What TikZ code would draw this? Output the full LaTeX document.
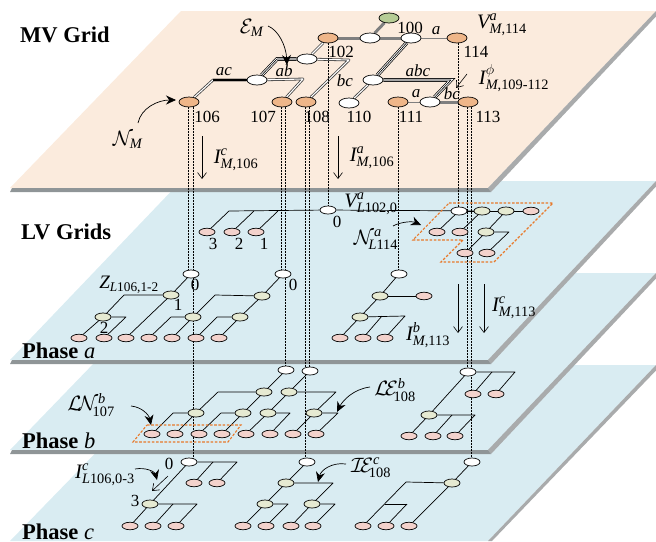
\documentclass[tikz,border=0pt]{standalone}
\usepackage{amsmath}
\usepackage{fontspec}
\setmainfont{Liberation Serif}
\usetikzlibrary{arrows.meta, shapes.geometric, calc}
\definecolor{grMV}{HTML}{FBEBDD}
\definecolor{grLV}{HTML}{D9ECF2}
\definecolor{grBand}{HTML}{8F9597}
\definecolor{grEdge}{HTML}{A9ABAC}
\definecolor{grLoad}{HTML}{F3D2CC}
\definecolor{grBus}{HTML}{E6EAD2}
\definecolor{grMVBus}{HTML}{EFB689}
\definecolor{grSub}{HTML}{B6CC95}
\definecolor{grDash}{HTML}{E8792B}
\definecolor{grFat}{HTML}{7F7F7F}
\pgfdeclarelayer{planes}
\pgfdeclarelayer{edges}
\pgfsetlayers{planes,edges,main}
\tikzset{
  gridnode/.style={ellipse, draw=black, line width=0.7pt, inner sep=0pt},
  mvbus/.style={gridnode, fill=grMVBus, minimum width=20pt, minimum height=10pt},
  mvwhite/.style={gridnode, fill=white, minimum width=20pt, minimum height=10pt},
  mvsub/.style={gridnode, fill=grSub, minimum width=20pt, minimum height=10pt},
  lvwhite/.style={gridnode, fill=white, minimum width=16pt, minimum height=8pt},
  lvbus/.style={gridnode, fill=grBus, minimum width=16pt, minimum height=8pt},
  lvload/.style={gridnode, fill=grLoad, minimum width=16pt, minimum height=7.5pt},
  wire/.style={draw=black, line width=0.7pt, line join=round},
  wirethin/.style={draw=grFat, line width=1pt},
  wirefat/.style={draw=grFat, line width=3pt},
  wiretwo/.style={draw=black!75, line width=0.8pt, double=white, double distance=1.1pt, line join=round},
  wirethree/.style={draw=black, line width=0.6pt, line join=round,
    preaction={draw=black, line width=3.8pt},
    preaction={draw=white, line width=2.4pt}},
  tie/.style={draw=black, line width=0.45pt, dash pattern=on 0.8pt off 0.7pt},
  lossdash/.style={draw=grDash, line width=1.1pt, dash pattern=on 2.6pt off 1.6pt},
  flowarrow/.style={-{Straight Barb[length=6pt, width=9pt]}, draw=black, line width=0.6pt},
  callout/.style={-{Stealth[length=10pt, width=9pt]}, draw=black, line width=0.7pt},
  numlab/.style={inner sep=0pt, font=\fontsize{17}{17}\selectfont},
  phaselab/.style={inner sep=0pt, font=\fontsize{17}{17}\selectfont\itshape},
  symlab/.style={inner sep=0pt, font=\fontsize{20.5}{22}\selectfont},
  zlab/.style={inner sep=0pt, font=\fontsize{19}{20}\selectfont},
  planelab/.style={inner sep=0pt, anchor=base west, font=\fontsize{22.5}{23}\selectfont\bfseries},
}
\newcommand{\mlab}[3]{$\textit{#1}^{\textit{#2}}_{\text{#3}}$}
\newcommand{\clab}[3]{$#1^{\textit{#2}}_{\!\text{#3}}$}
% top y, bottom y, colour of one parallelogram with its grey rim
\newcommand{\gridplane}[3]{%
  \fill[#3] (181,#1) -- (656,#1) -- (488,#2) -- (10,#2) -- cycle;
  \fill[grEdge] (488,#2) -- (656,#1) -- ++(0,5.5) -- (491,#2+4) -- cycle;
  \fill[grBand] (12,#2) -- (488,#2) -- (491,#2+4) -- (10,#2+4) -- cycle;
}

\begin{document}
\begin{tikzpicture}[x=1pt, y=-1pt]
\useasboundingbox (0,0) rectangle (656,541);

% Planes ------------------------------------------------------------------
\begin{pgfonlayer}{planes}
  \fill[grLV] (181,365) -- (656,365) -- (488,541) -- (10,541) -- cycle;
  \fill[grEdge] (488,541) -- (656,365) -- (656,370.5) -- (492,541) -- cycle;
  \gridplane{273}{450}{grLV}
  \gridplane{181}{360}{grLV}
  \gridplane{11}{188}{grMV}
\end{pgfonlayer}

% MV grid -----------------------------------------------------------------
\node[mvsub] (s0) at (389,18) {};
\foreach \nm/\x/\y in {w1/370/38, n100/411/38, w2/307/59, w3/257/80, w5/373/80, n110/349/103, w4/430/102}
  \node[mvwhite] (\nm) at (\x,\y) {};
\foreach \nm/\x/\y in {n102/328/38, n114/457/38, n106/189/102, n107/282/102, n108/306/102, n111/398/102, n113/468/102}
  \node[mvbus] (\nm) at (\x,\y) {};

% LV grids, phase a -------------------------------------------------------
\foreach \nm/\x/\y in {l102/328/210, l114/459/211, a106/191/274, a107/283/274, a111/399/274}
  \node[lvwhite] (\nm) at (\x,\y) {};
\foreach \nm/\x/\y in {m1/482/211, m2/506/211, m3/486/232,
    a1/171/295, a2/103/317, a3/262/296, a4/193/317, a5/240/317, a6/380/296, a7/360/317}
  \node[lvbus] (\nm) at (\x,\y) {};
\foreach \nm/\x/\y in {l3/207/232, l2/232/232, l1/256/232,
    m4/531/211, m5/437/232, m6/460/232, m7/465/253, m8/487/253,
    p1/79/338, p2/104/338, p3/126/338, p4/149/338, p5/172/338, p6/196/338, p7/219/338,
    p8/424/296, p9/340/338, p10/363/338, p11/385/338}
  \node[lvload] (\nm) at (\x,\y) {};

% Phase b -----------------------------------------------------------------
\foreach \nm/\x/\y in {b107/286/370, b108/310/371, b113/468/372}
  \node[lvwhite] (\nm) at (\x,\y) {};
\foreach \nm/\x/\y in {b1/264/392, b2/196/413, b3/243/413, b4/289/392, b5/268/413, b6/314/413, b7/429/415}
  \node[lvbus] (\nm) at (\x,\y) {};
\foreach \nm/\x/\y in {q1/152/434, q2/175/434, q3/199/434, q4/222/434, q5/246/434, q6/270/434,
    q7/293/434, q8/316/434, q9/473/394, q10/496/394, q11/409/436, q12/433/436, q13/455/436}
  \node[lvload] (\nm) at (\x,\y) {};

% Phase c -----------------------------------------------------------------
\foreach \nm/\x/\y in {c106/189/462, c108/307/462, c113/472/462}
  \node[lvwhite] (\nm) at (\x,\y) {};
\foreach \nm/\x/\y in {c1/150/504, c2/286/483, c3/265/504, c4/312/504, c5/452/483}
  \node[lvbus] (\nm) at (\x,\y) {};
\foreach \nm/\x/\y in {r1/194/483, r2/217/483, r3/130/526, r4/153/526, r5/176/526,
    r6/243/526, r7/266/526, r8/291/526, r9/313/526, r10/363/526, r11/386/526, r12/409/526}
  \node[lvload] (\nm) at (\x,\y) {};

% Free ends of the arrows -------------------------------------------------
\foreach \nm/\x/\y in {fa/202/136, fb/202/179, fc/338/136, fd/338/179, fe/458/284, ff/458/333,
    fg/484/284, fh/484/333, fi/467/74, fj/456/88, fk/168/476, fl/152/491,
    ga/268/26, gb/287/65, gc/138/123, gd/176/100, ge/393/226, gf/421/225,
    gg/131/406, gh/151/425, gi/135/469, gj/157/480, gk/370/387, gl/337/412, gm/346/464, gn/318/482}
  \coordinate (\nm) at (\x,\y);

\begin{pgfonlayer}{edges}
  % MV lines
  \draw[wirefat] (s0) -- (w1);
  \draw[wirefat] (n102) -- (w1) -- (n100);
  \draw[wirefat] (w4) -- (n113);
  \draw[wirethin] (n100) -- (n114);
  \draw[wirethin] (n111) -- (w4);
  \draw[wiretwo] (n102) -- (w2);
  \draw[wiretwo] (w3) -- (303,79) -- (n107);
  \draw[wiretwo] (w2) -- (349,60) -- (n108);
  \draw[wiretwo] (w5) -- (n110);
  \draw[wiretwo] (w3) -- (213,80) -- (n106);
  \draw[draw=black, line width=1.4pt] (w3) -- (213,80);
  \draw[wirethree] (w2) -- (277,59) -- (w3);
  \draw[wirethree] (n100) -- (w5);
  \draw[wirethree] (w5) -- (451,80) -- (w4);
  % ties between the grids
  \foreach \a/\da/\b/\db in {n106/-0.5/a106/-2.5, n106/4/c106/4, n107/-1/a107/-2, n107/3/b107/-1,
      n108/-1/c108/-2, n108/3/b108/-1, n102/0/l102/0, n111/0/a111/-1, n114/1/l114/-1,
      n113/-1/b113/-1, n113/3.5/c113/-0.5}
    \draw[tie] ($(\a)+(\da,0)$) -- ($(\b)+(\db,0)$);
  % straight LV branches
  \foreach \a/\b in {l102/m1, m1/m2, m2/m4, l114/m5, m1/m6, m2/m3, m3/m7,
      a106/a1, a1/p3, a2/p1, a107/a3, a3/a5, a4/p5, a5/p7, a111/a6, a6/p8, a6/a7, a7/p9,
      b107/b1, b1/b3, b2/q2, b3/q4, b108/b4, b4/b5, b5/q5, b6/q7,
      b7/q11, b113/b7, c106/c1, c1/r3, c108/c2, c2/c3, c3/r6, c4/r8, c113/c5, c5/r12}
    \draw[wire] (\a) -- (\b);
  \draw[wire] (l114) -- (m1);
  % branches with a bend
  \draw[wire] (l102) -- (229,211) -- (l3);
  \draw[wire] (254,211) -- (l2);
  \draw[wire] (278,211) -- (l1);
  \draw[wire] (m3) -- (509,232) -- (m8);
  \draw[wire] (a1) -- (124,295) -- (a2);
  \draw[wire] (a2) -- (126,317) -- (p2);
  \draw[wire] (a3) -- (215,295) -- (a4);
  \draw[wire] (a4) -- (171,317) -- (p4);
  \draw[wire] (a5) -- (217,317) -- (p6);
  \draw[wire] (a7) -- (405,316) -- (p11);
  \draw[wire] (382,316) -- (p10);
  \draw[wire] (b1) -- (218,392) -- (b2);
  \draw[wire] (b2) -- (173,413) -- (q1);
  \draw[wire] (b3) -- (221,413) -- (q3);
  \draw[wire] (b4) -- (336,392) -- (b6);
  \draw[wire] (b5) -- (290,413) -- (q6);
  \draw[wire] (b6) -- (338,413) -- (q8);
  \draw[wire] (b113) -- (515,372) -- (q10);
  \draw[wire] (492,372) -- (q9);
  \draw[wire] (b7) -- (475,415) -- (q13);
  \draw[wire] (452,415) -- (q12);
  \draw[wire] (c106) -- (237,462) -- (r2);
  \draw[wire] (213,462) -- (r1);
  \draw[wire] (c1) -- (197,504) -- (r5);
  \draw[wire] (173,504) -- (r4);
  \draw[wire] (c2) -- (333,483) -- (c4);
  \draw[wire] (c3) -- (288,504) -- (r7);
  \draw[wire] (c4) -- (335,504) -- (r9);
  \draw[wire] (c5) -- (406,482) -- (r10);
  \draw[wire] (407,504) -- (385,504);
  \draw[wire] (407,504) -- (r11);
  % dashed sets
  \draw[lossdash] (449,203) -- (553,203) -- (494,262) -- (441,262) -- (463,240) -- (413,240) -- cycle;
  \draw[lossdash] (147,425) -- (241,425) -- (228,442) -- (133,442) -- cycle;
\end{pgfonlayer}

% Arrows ------------------------------------------------------------------
\foreach \a/\b in {fa/fb, fc/fd, fe/ff, fg/fh, fi/fj, fk/fl}
  \draw[flowarrow] (\a) -- (\b);
\draw[callout] (ga) .. controls (278,30) and (286,45) .. (gb);
\draw[callout] (gc) .. controls (141,108) and (158,100) .. (gd);
\draw[callout] (ge) .. controls (400,222) and (412,221) .. (gf);
\draw[callout] (gg) .. controls (142,407) and (149,415) .. (gh);
\draw[callout] (gi) .. controls (146,467) and (155,472) .. (gj);
\draw[callout] (gk) .. controls (354,389) and (343,400) .. (gl);
\draw[callout] (gm) .. controls (332,462) and (321,470) .. (gn);

% Labels ------------------------------------------------------------------
\node[planelab] (tmv) at (20,42) {MV Grid};
\node[planelab] (tlv) at (21,239) {LV Grids};
\node[planelab] (tpa) at (22,358) {Phase \textit{\mdseries a}};
\node[planelab] (tpb) at (22,448) {Phase \textit{\mdseries b}};
\node[planelab] (tpc) at (22,539) {Phase \textit{\mdseries c}};
\foreach \nm/\x/\y/\t in {t100/410/28/100, t102/341/52/102, t114/476/52/114, t106/207/117/106,
    t107/263/117/107, t108/317/117/108, t110/359/117/110, t111/411/117/111, t113/488/117/113,
    tl3/213/244/3, tl2/239/244/2, tl1/264/244/1, tl0/337/222/0, ta0/195/285/0, tb0/293/285/0,
    ta1/178/305/1, ta2/104/328/2, tc0/169/464/0, tc3/135/501/3}
  \node[numlab] (\nm) at (\x,\y) {\t};
\foreach \nm/\x/\y/\t in {tac/224/72/ac, tab/284/71/ab, tbc/345/81/bc, tabc/418/71/abc,
    taa/436/31/a, tab2/416/94/a, tbc2/452/94/bc}
  \node[phaselab] (\nm) at (\x,\y) {\t};
\node[symlab] (tem) at (252,28) {$\mathcal{E}_{\text{\textit{M}}}$};
\node[symlab] (tnm) at (128,140) {$\mathcal{N}_{\text{\textit{M}}}$};
\node[symlab] (tv114) at (502,25) {\mlab{V}{a}{\textit{M},114}};
\node[symlab] (tiphi) at (514,78) {\mlab{I}{\ensuremath{\phi}}{\textit{M},109-112}};
\node[symlab] (tic106) at (236,160) {\mlab{I}{c}{\textit{M},106}};
\node[symlab] (tia106) at (372,158) {\mlab{I}{a}{\textit{M},106}};
\node[symlab] (tv102) at (371,204) {\mlab{V}{a}{\textit{L}102,0}};
\node[symlab] (tn114) at (376,240) {\clab{\mathcal{N}}{a}{\textit{L}114}};
\node[zlab] (tz) at (129,285) {$\textit{Z}_{\text{\textit{L}106,1-2}}$};
\node[symlab] (tib) at (428,335) {\mlab{I}{b}{\textit{M},113}};
\node[symlab] (tic) at (514,308) {\mlab{I}{c}{\textit{M},113}};
\node[symlab] (tln) at (91,405) {\clab{\mathcal{L}\!\mathcal{N}}{b}{107}};
\node[symlab] (tle) at (395,390) {\clab{\mathcal{L}\!\mathcal{E}}{b}{108}};
\node[symlab] (tie) at (371,468) {\clab{\mathcal{I}\!\mathcal{E}}{c}{108}};
\node[symlab] (til) at (105,475) {\mlab{I}{c}{\textit{L}106,0-3}};

\end{tikzpicture}
\end{document}
